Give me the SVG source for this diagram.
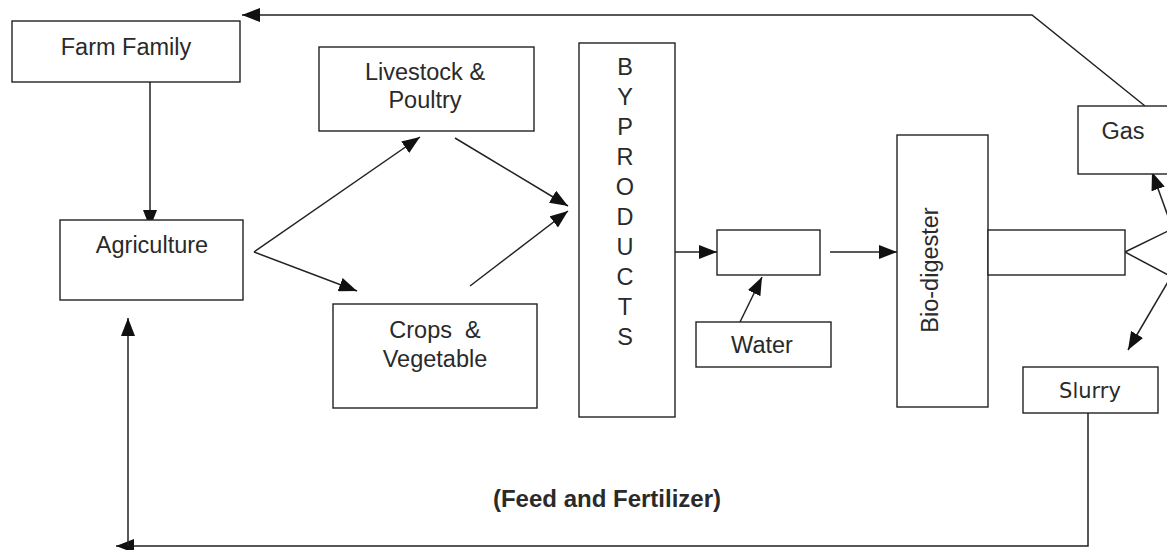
<svg xmlns="http://www.w3.org/2000/svg" width="1167" height="550" viewBox="0 0 1167 550">
<style>
.box{fill:#fff;stroke:#222;stroke-width:1.4}
.t{font-family:"Liberation Sans",Arial,sans-serif;font-size:23.5px;fill:#2a2a2a;text-anchor:middle}
.b{font-family:"Liberation Sans",Arial,sans-serif;font-size:24px;font-weight:bold;fill:#2a2a2a;text-anchor:middle}
.h{font-family:"DejaVu Sans",sans-serif;font-size:21px;fill:#2a2a2a;text-anchor:middle}
.c{fill:none;stroke:#222;stroke-width:1.5}
</style>
<defs>
<marker id="ah" markerUnits="userSpaceOnUse" markerWidth="18" markerHeight="14" refX="18" refY="7" orient="auto">
<path d="M0,0 L18,7 L0,14 z" fill="#111"/>
</marker>
</defs>
<rect width="1167" height="550" fill="#fff"/>
<g id="connectors">
<path class="c" d="M150,82 L150,228" marker-end="url(#ah)"/>
<path class="c" d="M254,252 L420,137" marker-end="url(#ah)"/>
<path class="c" d="M254,252 L357,291" marker-end="url(#ah)"/>
<path class="c" d="M455,138 L568,206" marker-end="url(#ah)"/>
<path class="c" d="M470,286 L568,211" marker-end="url(#ah)"/>
<path class="c" d="M675,252 L717,252" marker-end="url(#ah)"/>
<path class="c" d="M740,322 L762,277" marker-end="url(#ah)"/>
<path class="c" d="M830,252 L897,252" marker-end="url(#ah)"/>
<path class="c" d="M1125,252 L1170,230 M1125,252 L1170,276"/>
<path class="c" d="M1169,219 L1152,172" marker-end="url(#ah)"/>
<path class="c" d="M1169,280 L1128,350" marker-end="url(#ah)"/>
<path class="c" d="M1145,106 L1032,15 L242,15" marker-end="url(#ah)"/>
<path class="c" d="M1088,413 L1088,546 L116,546" marker-end="url(#ah)"/>
<path class="c" d="M128,546 L128,318" marker-end="url(#ah)"/>
</g>
<g id="farm-family"><rect class="box" x="12" y="21" width="228" height="61"/><text class="t" x="126" y="55">Farm Family</text></g>
<g id="agriculture"><rect class="box" x="60" y="220" width="183" height="80"/><text class="t" x="152" y="253">Agriculture</text></g>
<g id="livestock"><rect class="box" x="319" y="47" width="215" height="84"/><text class="t" x="425" y="80">Livestock &amp;</text><text class="t" x="425" y="108">Poultry</text></g>
<g id="crops"><rect class="box" x="333" y="304" width="204" height="104"/><text class="t" x="435" y="338" xml:space="preserve">Crops  &amp;</text><text class="t" x="435" y="367">Vegetable</text></g>
<g id="byproducts"><rect class="box" x="579" y="43" width="96" height="374"/>
<text class="t" x="625" y="75">B</text><text class="t" x="625" y="105">Y</text><text class="t" x="625" y="135">P</text><text class="t" x="625" y="165">R</text><text class="t" x="625" y="195">O</text><text class="t" x="625" y="225">D</text><text class="t" x="625" y="255">U</text><text class="t" x="625" y="285">C</text><text class="t" x="625" y="315">T</text><text class="t" x="625" y="345">S</text></g>
<g id="mixing-box"><rect class="box" x="717" y="230" width="103" height="45"/></g>
<g id="water"><rect class="box" x="696" y="322" width="135" height="45"/><text class="t" x="762" y="353">Water</text></g>
<g id="bio-digester"><rect class="box" x="897" y="135" width="91" height="272"/><text class="t" transform="translate(938,270) rotate(-90)" x="0" y="0">Bio-digester</text></g>
<g id="pipe"><rect class="box" x="988" y="230" width="137" height="45"/></g>
<g id="gas"><rect class="box" x="1078" y="106" width="95" height="68"/><text class="t" x="1123" y="139">Gas</text></g>
<g id="slurry"><rect class="box" x="1023" y="367" width="135" height="46"/><text class="h" x="1090" y="398">Slurry</text></g>
<g id="label"><text class="b" x="607" y="507">(Feed and Fertilizer)</text></g>
</svg>
